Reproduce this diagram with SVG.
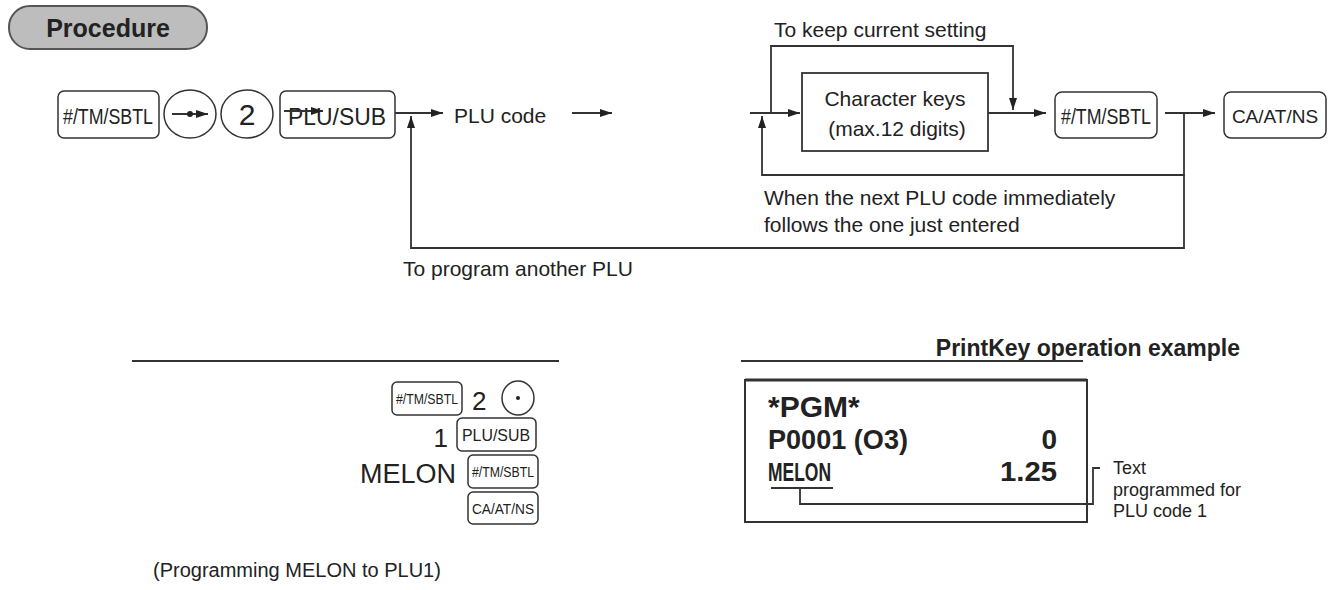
<svg xmlns="http://www.w3.org/2000/svg" width="1332" height="590" viewBox="0 0 1332 590">
<defs>
<marker id="ah" markerWidth="12" markerHeight="8" refX="12" refY="4" orient="auto" markerUnits="userSpaceOnUse"><path d="M0,0 L12,4 L0,8 Z" fill="#222"/></marker>
<style>
.t{font-family:"Liberation Sans",Arial,sans-serif;fill:#222}
.key{fill:#fff;stroke:#333;stroke-width:1.5}
.ln{fill:none;stroke:#333;stroke-width:1.8}
</style>
</defs>
<rect width="1332" height="590" fill="#fff"/>
<g id="procedure"><rect x="9" y="6" width="198" height="43" rx="21" fill="#bdbdbd" stroke="#555" stroke-width="2"/><text class="t" x="108" y="37" font-size="25" font-weight="bold" text-anchor="middle">Procedure</text></g>
<g id="k1"><rect class="key" x="58" y="91" width="101" height="47" rx="6"/><text class="t" x="108" y="124" font-size="22" text-anchor="middle" textLength="90" lengthAdjust="spacingAndGlyphs">#/TM/SBTL</text></g>
<g id="k2"><ellipse class="key" cx="190" cy="114" rx="26" ry="24"/><line class="ln" x1="172" y1="114" x2="208" y2="114" marker-end="url(#ah)"/><circle cx="190" cy="114" r="3" fill="#222"/></g>
<g id="k3"><ellipse class="key" cx="247" cy="114" rx="26" ry="24"/><text class="t" x="247" y="125" font-size="30" text-anchor="middle">2</text></g>
<g id="k4"><rect class="key" x="280" y="91" width="115" height="47" rx="6"/><text class="t" x="337" y="125" font-size="24" text-anchor="middle" textLength="98" lengthAdjust="spacingAndGlyphs">PLU/SUB</text><line class="ln" x1="284" y1="111" x2="323" y2="111" marker-end="url(#ah)"/></g>
<g id="plucode"><text class="t" x="454" y="123" font-size="21">PLU code</text></g>
<g id="charkeys"><rect x="802" y="73" width="186" height="78" fill="#fff" stroke="#333" stroke-width="1.8"/><text class="t" x="895" y="106" font-size="21" text-anchor="middle">Character keys</text><text class="t" x="897" y="136" font-size="21" text-anchor="middle">(max.12 digits)</text></g>
<g id="k5"><rect class="key" x="1055" y="92" width="102" height="46" rx="7"/><text class="t" x="1106" y="124" font-size="22" text-anchor="middle" textLength="90" lengthAdjust="spacingAndGlyphs">#/TM/SBTL</text></g>
<g id="k6"><rect class="key" x="1224" y="92" width="102" height="46" rx="7"/><text class="t" x="1275" y="123" font-size="19" text-anchor="middle">CA/AT/NS</text></g>
<g id="connectors">
<line class="ln" x1="395" y1="113" x2="443" y2="113" marker-end="url(#ah)"/>
<line class="ln" x1="572" y1="113" x2="612" y2="113" marker-end="url(#ah)"/>
<line class="ln" x1="750" y1="113" x2="800" y2="113" marker-end="url(#ah)"/>
<polyline class="ln" points="771,113 771,46 1013,46 1013,110" marker-end="url(#ah)"/>
<line class="ln" x1="988" y1="113" x2="1046" y2="113" marker-end="url(#ah)"/>
<line class="ln" x1="1165" y1="113" x2="1215" y2="113" marker-end="url(#ah)"/>
<polyline class="ln" points="1184,113 1184,175 762,175 762,116" marker-end="url(#ah)"/>
<polyline class="ln" points="1184,175 1184,248 411,248 411,116" marker-end="url(#ah)"/>
</g>
<text class="t" x="774" y="37" font-size="21">To keep current setting</text>
<text class="t" x="764" y="205" font-size="21">When the next PLU code immediately</text>
<text class="t" x="764" y="232" font-size="21">follows the one just entered</text>
<text class="t" x="403" y="276" font-size="21">To program another PLU</text>
<g id="example">
<line x1="132" y1="361" x2="559" y2="361" stroke="#333" stroke-width="2"/>
<rect class="key" x="392" y="382" width="70" height="33" rx="5"/><text class="t" x="427" y="404" font-size="14" text-anchor="middle" textLength="62" lengthAdjust="spacingAndGlyphs">#/TM/SBTL</text>
<text class="t" x="472" y="410" font-size="26">2</text>
<ellipse class="key" cx="518" cy="398" rx="16" ry="17"/><circle cx="518" cy="398" r="2" fill="#222"/>
<text class="t" x="448" y="447" font-size="26" text-anchor="end">1</text>
<rect class="key" x="457" y="418" width="79" height="33" rx="5"/><text class="t" x="496" y="441" font-size="16" text-anchor="middle" textLength="68" lengthAdjust="spacingAndGlyphs">PLU/SUB</text>
<text class="t" x="456" y="483" font-size="27" text-anchor="end">MELON</text>
<rect class="key" x="468" y="455" width="70" height="33" rx="5"/><text class="t" x="503" y="477" font-size="14" text-anchor="middle" textLength="62" lengthAdjust="spacingAndGlyphs">#/TM/SBTL</text>
<rect class="key" x="468" y="492" width="70" height="32" rx="5"/><text class="t" x="503" y="514" font-size="14" text-anchor="middle" textLength="62" lengthAdjust="spacingAndGlyphs">CA/AT/NS</text>
<text class="t" x="153" y="577" font-size="20">(Programming MELON to PLU1)</text>
</g>
<g id="printkey">
<text class="t" x="1240" y="356" font-size="23" font-weight="bold" text-anchor="end">PrintKey operation example</text>
<line x1="741" y1="361" x2="1083" y2="361" stroke="#333" stroke-width="2"/>
<rect x="745" y="380" width="342" height="142" fill="#fff" stroke="#333" stroke-width="2"/>
<line x1="745" y1="380" x2="1087" y2="380" stroke="#333" stroke-width="3"/>
<text class="t" x="768" y="417" font-size="30" font-weight="bold">*PGM*</text>
<text class="t" x="768" y="449" font-size="28" font-weight="bold" textLength="140" lengthAdjust="spacingAndGlyphs">P0001 (O3)</text>
<text class="t" x="1057" y="449" font-size="28" font-weight="bold" text-anchor="end">0</text>
<text class="t" x="768" y="481" font-size="26" font-weight="bold" textLength="63" lengthAdjust="spacingAndGlyphs">MELON</text>
<text class="t" x="1057" y="481" font-size="28" font-weight="bold" text-anchor="end" textLength="57" lengthAdjust="spacingAndGlyphs">1.25</text>
<line x1="771" y1="488" x2="833" y2="488" stroke="#333" stroke-width="2"/>
<polyline class="ln" points="800,488 800,504 1093,504 1093,468 1100,468"/>
<text class="t" x="1113" y="474" font-size="18">Text</text>
<text class="t" x="1113" y="496" font-size="18">programmed for</text>
<text class="t" x="1113" y="517" font-size="18">PLU code 1</text>
</g>
</svg>
